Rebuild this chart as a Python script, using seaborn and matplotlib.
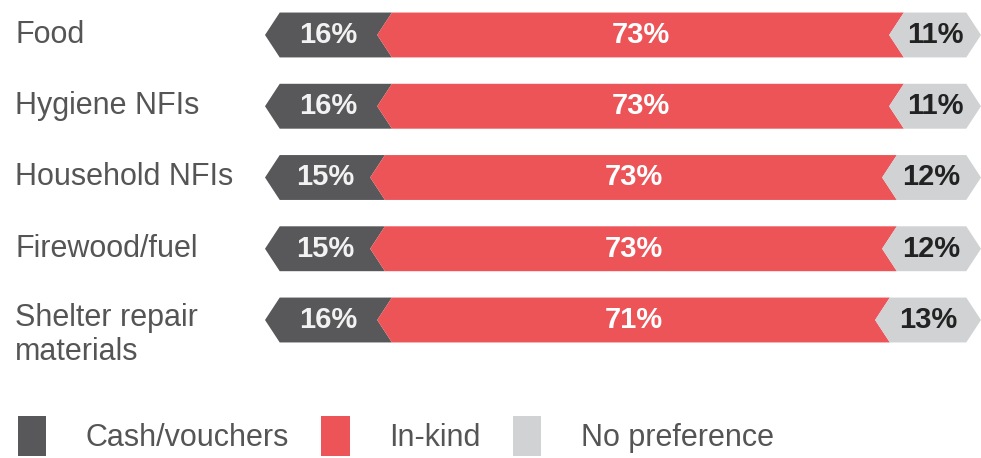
import seaborn as sns
import numpy as np
import matplotlib.pyplot as plt
from matplotlib.patches import Polygon, Patch
from matplotlib.transforms import blended_transform_factory

# datos
categorias = ["Food", "Hygiene NFIs", "Household NFIs", "Firewood/fuel",
              "Shelter repair\nmaterials"]
cash = [16, 16, 15, 15, 16]
in_kind = [73, 73, 73, 73, 71]
no_pref = [11, 11, 12, 12, 13]
series = ["Cash/vouchers", "In-kind", "No preference"]

colores = ["#58585a", "#ec5458", "#d0d2d3"]
color_texto = ["#f2f2f2", "#ffffff", "#222222"]

sns.set_theme(style="white")
plt.rcParams["font.family"] = ["Liberation Sans", "DejaVu Sans"]

fig = plt.figure(figsize=(9.81, 4.58), dpi=100)
ax = fig.add_axes([265 / 981, 78 / 458, 716 / 981, 380 / 458])

# barras apiladas: se dibujan los acumulados del mayor al menor
acum1 = np.array(cash)
acum2 = acum1 + np.array(in_kind)
acum3 = acum2 + np.array(no_pref)
alto = 0.63
for vals, col in zip([acum3, acum2, acum1], colores[::-1]):
    sns.barplot(x=vals, y=categorias, color=col, orient="h", width=alto,
                errorbar=None, ax=ax)

d = 2.1  # profundidad de la punta de flecha
ax.set_xlim(0, 100 + d)
ax.set_ylim(4.842, -0.491)

# reemplazar rectangulos por flechas
inicio = [np.zeros(5), acum1, acum2]
fin = [acum1, acum2, acum3]
valores = [cash, in_kind, no_pref]
for k, cont in enumerate(ax.containers[::-1]):
    for i, rect in enumerate(cont.patches):
        rect.set_visible(False)
        yc = rect.get_y() + rect.get_height() / 2
        h = rect.get_height() / 2
        x0 = inicio[k][i]
        x1 = fin[k][i]
        if k < 2:
            pts = [(x0, yc), (x0 + d, yc - h), (x1 + d, yc - h), (x1, yc),
                   (x1 + d, yc + h), (x0 + d, yc + h)]
        else:
            pts = [(x0, yc), (x0 + d, yc - h), (x1, yc - h), (x1 + d, yc),
                   (x1, yc + h), (x0 + d, yc + h)]
        ax.add_patch(Polygon(pts, closed=True, facecolor=colores[k],
                             edgecolor="none", clip_on=False))
        ax.text((x0 + x1) / 2 + d / 2, yc, f"{valores[k][i]}%",
                ha="center", va="center", fontsize=21, fontweight="bold",
                color=color_texto[k])

# etiquetas de categorias
trans = blended_transform_factory(fig.transFigure, ax.transData)
for i, cat in enumerate(categorias):
    desp = 0.21 if "\n" in cat else 0
    ax.text(15 / 981, i + desp, cat, transform=trans, ha="left", va="center",
            fontsize=22, color="#555555", linespacing=1.15)

ax.set_axis_off()

# leyenda
handles = [Patch(facecolor=c, edgecolor="none") for c in colores]
fig.legend(handles, series, loc="center left",
           bbox_to_anchor=(-10 / 981, 1 - 436 / 458), ncol=3, frameon=False,
           fontsize=22, labelcolor="#555555", handlelength=0.93,
           handleheight=1.6, handletextpad=1.3, columnspacing=1.05)

fig.savefig("out.png", dpi=100)
